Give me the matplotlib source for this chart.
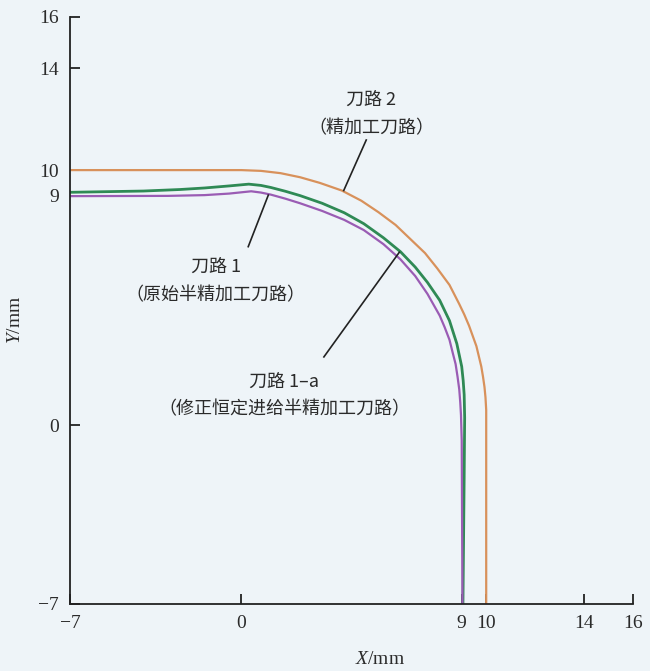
#!/usr/bin/env python
# -*- coding: utf-8 -*-

import matplotlib
matplotlib.use('Agg')
import matplotlib.pyplot as plt

# traced tool paths (mm)
path2_x = [-7, 0.0, 0.8, 1.6, 2.4, 3.2, 4.1, 4.9, 5.6, 6.3, 6.9, 7.5, 8.0, 8.5, 8.9,
           9.1, 9.3, 9.45, 9.6, 9.7, 9.8, 9.87, 9.93, 9.97, 10.0, 10.0]
path2_y = [10, 10, 9.97, 9.88, 9.72, 9.5, 9.2, 8.8, 8.35, 7.85, 7.3, 6.75, 6.15, 5.5, 4.75,
           4.35, 3.9, 3.5, 3.1, 2.7, 2.3, 1.9, 1.5, 1.1, 0.6, -7]

path1a_x = [-7, -4, -2.5, -1.5, -0.5, 0.3, 0.8, 1.2, 1.8, 2.4, 3.3, 4.2, 5.0, 5.8, 6.5,
            7.1, 7.6, 8.1, 8.3, 8.5, 8.65, 8.8, 8.9, 9.0, 9.06, 9.1, 9.12, 9.1, 9.05]
path1a_y = [9.13, 9.18, 9.24, 9.3, 9.38, 9.45, 9.4, 9.32, 9.17, 9.0, 8.7, 8.33, 7.9, 7.35, 6.8,
            6.2, 5.6, 4.9, 4.5, 4.1, 3.65, 3.2, 2.75, 2.3, 1.75, 1.2, 0.3, -2.0, -7]

path1_x = [-7, -3, -1.5, -0.5, 0.4, 0.8, 1.2, 1.8, 2.4, 3.3, 4.2, 5.0, 5.8, 6.5, 7.1, 7.6,
           8.1, 8.3, 8.5, 8.63, 8.75, 8.83, 8.9, 8.94, 8.97, 9.0, 9.03]
path1_y = [8.98, 8.99, 9.02, 9.08, 9.17, 9.12, 9.04, 8.88, 8.7, 8.4, 8.05, 7.65, 7.1, 6.5, 5.85, 5.15,
           4.3, 3.85, 3.35, 2.85, 2.4, 1.9, 1.4, 0.9, 0.4, -0.6, -7]

ticks = [-7, 0, 9, 10, 14, 16]
tick_labels = ['\u22127', '0', '9', '10', '14', '16']

labels = [
    # (text line 1, text line 2, text x, text y1, text y2, leader start, leader end)
    ('刀路 2', '（精加工刀路）', 5.3, 12.75, 11.65, (4.18, 9.2), (5.1, 11.18)),
    ('刀路 1', '（原始半精加工刀路）', -1.05, 6.2, 5.08, (1.1, 9.02), (0.28, 7.0)),
    ('刀路 1–a', '（修正恒定进给半精加工刀路）', 1.75, 1.7, 0.62, (6.45, 6.78), (3.37, 2.68)),
]

bg = '#eef4f8'
cjk = ['Noto Sans CJK SC', 'DejaVu Sans']

plt.rcParams['mathtext.fontset'] = 'custom'
plt.rcParams['mathtext.rm'] = 'Liberation Serif'
plt.rcParams['mathtext.it'] = 'Liberation Serif:italic'


def make_plot():
    fig = plt.figure(figsize=(6.5, 6.71), dpi=100, facecolor=bg)
    ax = fig.add_axes([0.1077, 0.0999, 0.8663, 0.8748], facecolor=bg)

    ax.plot(path2_x, path2_y, color='#d8915b', lw=1.6, solid_capstyle='butt')
    ax.plot(path1a_x, path1a_y, color='#2f8a55', lw=2.0, solid_capstyle='butt')
    ax.plot(path1_x, path1_y, color='#9a5cb4', lw=1.6, solid_capstyle='butt')

    for l1, l2, tx, ty1, ty2, p0, p1 in labels:
        ax.plot([p0[0], p1[0]], [p0[1], p1[1]], color='#222222', lw=1.2)
        ax.text(tx, ty1, l1, ha='center', va='center', fontsize=13,
                family=cjk, weight='medium', color='#2a2a2a')
        ax.text(tx, ty2, l2, ha='center', va='center', fontsize=13,
                family=cjk, weight='medium', color='#2a2a2a')

    ax.set_xlim(-7, 16)
    ax.set_ylim(-7, 16)
    for s in ['top', 'right']:
        ax.spines[s].set_visible(False)
    for s in ['left', 'bottom']:
        ax.spines[s].set_linewidth(1.3)
        ax.spines[s].set_color('#222222')

    ax.set_xticks(ticks)
    ax.set_xticklabels(tick_labels)
    ax.set_yticks(ticks)
    ax.set_yticklabels(tick_labels)
    ax.tick_params(direction='in', length=7, width=1.3, color='#222222',
                   labelsize=14, pad=8)
    for lab in ax.get_xticklabels() + ax.get_yticklabels():
        lab.set_family('Liberation Serif')
        lab.set_color('#2a2a2a')

    fig.text(0.585, 0.004, r'$\it{X}$/mm', ha='center', va='bottom',
             fontsize=14, color='#2a2a2a', family='Liberation Serif')
    fig.text(0.01, 0.523, r'$\it{Y}$/mm', ha='left', va='center',
             fontsize=14, color='#2a2a2a', rotation=90, family='Liberation Serif')

    fig.savefig('out.png', dpi=100, facecolor=bg)


if __name__ == '__main__':
    make_plot()
